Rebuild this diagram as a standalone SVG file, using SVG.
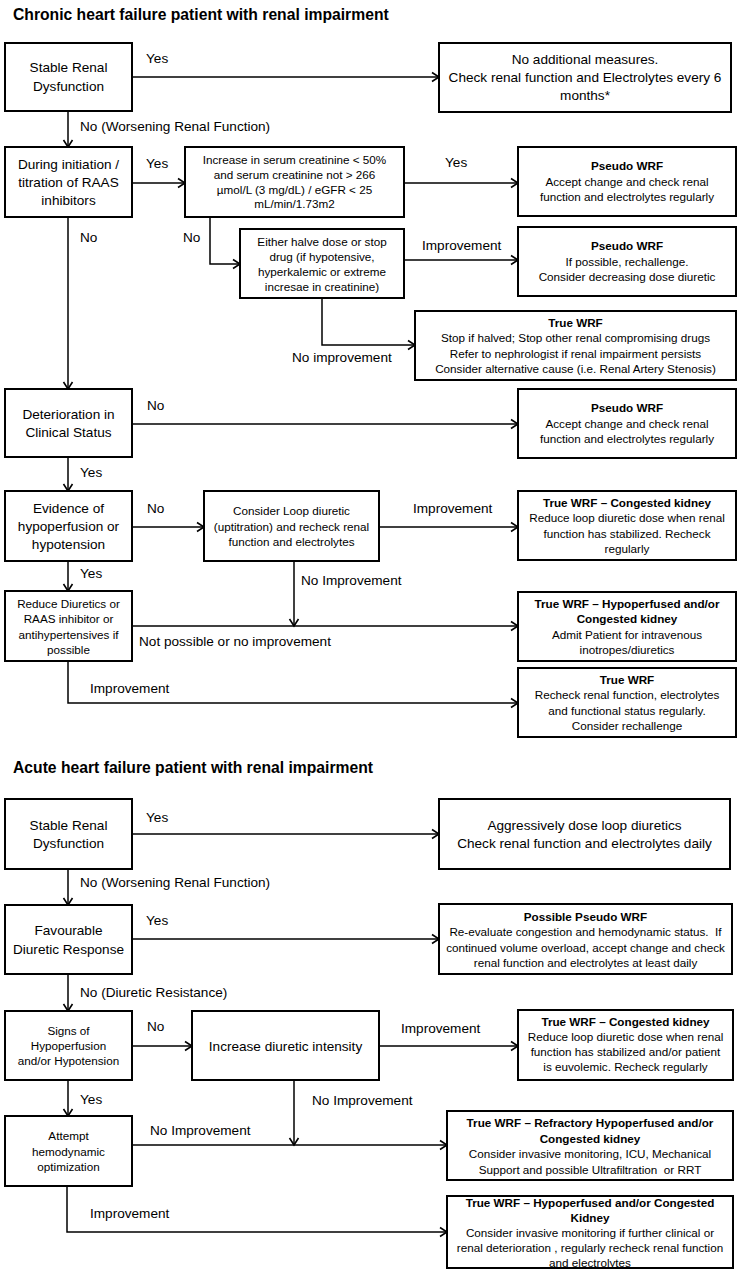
<svg xmlns="http://www.w3.org/2000/svg" width="740" height="1274" viewBox="0 0 740 1274">
<style>
.bg{fill:#fff}
.box{fill:#fff;stroke:#000;stroke-width:2}
.conn{fill:none;stroke:#000;stroke-width:1.5}
text{font-family:"Liberation Sans",Arial,sans-serif;fill:#000}
.big{font-size:13.6px;text-anchor:middle}
.sm{font-size:11.7px;text-anchor:middle}
.b{font-weight:bold}
.lbl{font-size:13.6px}
.title{font-size:15.7px;font-weight:bold}
</style>
<defs>
<marker id="arr" markerUnits="userSpaceOnUse" markerWidth="12" markerHeight="12" refX="9" refY="6" orient="auto">
<path d="M2,1.5 L9,6 L2,10.5" fill="none" stroke="#000" stroke-width="1.6"/>
</marker>
</defs>
<rect class="bg" x="0" y="0" width="740" height="1274"/>

<text class="title" x="13" y="20">Chronic heart failure patient with renal impairment</text>
<text class="title" x="13" y="773">Acute heart failure patient with renal impairment</text>

<g id="connectors">
<path class="conn" d="M132,77 H439" marker-end="url(#arr)"/>
<path class="conn" d="M68,111 V147" marker-end="url(#arr)"/>
<path class="conn" d="M132,183 H185" marker-end="url(#arr)"/>
<path class="conn" d="M404,183 H518" marker-end="url(#arr)"/>
<path class="conn" d="M210,217 V264 H240" marker-end="url(#arr)"/>
<path class="conn" d="M404,260 H518" marker-end="url(#arr)"/>
<path class="conn" d="M322,298 V345 H415" marker-end="url(#arr)"/>
<path class="conn" d="M68,217 V389" marker-end="url(#arr)"/>
<path class="conn" d="M132,424 H518" marker-end="url(#arr)"/>
<path class="conn" d="M68,457 V491" marker-end="url(#arr)"/>
<path class="conn" d="M132,527 H204" marker-end="url(#arr)"/>
<path class="conn" d="M379,527 H518" marker-end="url(#arr)"/>
<path class="conn" d="M68,561 V591" marker-end="url(#arr)"/>
<path class="conn" d="M294,561 V626" marker-end="url(#arr)"/>
<path class="conn" d="M132,626 H518" marker-end="url(#arr)"/>
<path class="conn" d="M68,661 V703 H518" marker-end="url(#arr)"/>

<path class="conn" d="M132,834 H439" marker-end="url(#arr)"/>
<path class="conn" d="M68,869 V905" marker-end="url(#arr)"/>
<path class="conn" d="M132,939 H439" marker-end="url(#arr)"/>
<path class="conn" d="M68,974 V1011" marker-end="url(#arr)"/>
<path class="conn" d="M132,1046 H192" marker-end="url(#arr)"/>
<path class="conn" d="M379,1046 H518" marker-end="url(#arr)"/>
<path class="conn" d="M68,1080 V1116" marker-end="url(#arr)"/>
<path class="conn" d="M294,1080 V1145" marker-end="url(#arr)"/>
<path class="conn" d="M132,1145 H447" marker-end="url(#arr)"/>
<path class="conn" d="M67,1186 V1232 H447" marker-end="url(#arr)"/>

<text class="lbl" x="146" y="63">Yes</text>
<text class="lbl" x="80" y="131">No (Worsening Renal Function)</text>
<text class="lbl" x="146" y="168">Yes</text>
<text class="lbl" x="445" y="167">Yes</text>
<text class="lbl" x="80" y="242">No</text>
<text class="lbl" x="183" y="242">No</text>
<text class="lbl" x="422" y="250">Improvement</text>
<text class="lbl" x="292" y="362">No improvement</text>
<text class="lbl" x="147" y="410">No</text>
<text class="lbl" x="80" y="477">Yes</text>
<text class="lbl" x="147" y="513">No</text>
<text class="lbl" x="413" y="513">Improvement</text>
<text class="lbl" x="80" y="578">Yes</text>
<text class="lbl" x="301" y="585">No Improvement</text>
<text class="lbl" x="139" y="646">Not possible or no improvement</text>
<text class="lbl" x="90" y="693">Improvement</text>

<text class="lbl" x="146" y="822">Yes</text>
<text class="lbl" x="80" y="887">No (Worsening Renal Function)</text>
<text class="lbl" x="146" y="925">Yes</text>
<text class="lbl" x="80" y="997">No (Diuretic Resistance)</text>
<text class="lbl" x="147" y="1031">No</text>
<text class="lbl" x="401" y="1033">Improvement</text>
<text class="lbl" x="80" y="1104">Yes</text>
<text class="lbl" x="312" y="1105">No Improvement</text>
<text class="lbl" x="150" y="1135">No Improvement</text>
<text class="lbl" x="90" y="1218">Improvement</text>
</g>

<g id="c-stable">
<rect class="box" x="5" y="43" width="127" height="68"/>
<text class="big" x="68.5" y="72">Stable Renal</text>
<text class="big" x="68.5" y="91">Dysfunction</text>
</g>
<g id="c-nomeasures">
<rect class="box" x="439" y="43" width="292" height="69"/>
<text class="big" x="585" y="63.5">No additional measures.</text>
<text class="big" x="585" y="81.5">Check renal function and Electrolytes every 6</text>
<text class="big" x="585" y="99.5">months*</text>
</g>
<g id="c-raas">
<rect class="box" x="5" y="147" width="127" height="70"/>
<text class="big" x="68.5" y="168.5">During initiation /</text>
<text class="big" x="68.5" y="186.5">titration of RAAS</text>
<text class="big" x="68.5" y="204.5">inhibitors</text>
</g>
<g id="c-creatinine">
<rect class="box" x="185" y="147" width="219" height="70"/>
<text class="sm" x="294.5" y="164">Increase in serum creatinine &lt; 50%</text>
<text class="sm" x="294.5" y="179">and  serum creatinine not &gt; 266</text>
<text class="sm" x="294.5" y="193.5">µmol/L (3 mg/dL) / eGFR &lt; 25</text>
<text class="sm" x="294.5" y="208">mL/min/1.73m2</text>
</g>
<g id="c-pseudo1">
<rect class="box" x="518" y="147" width="218" height="69"/>
<text class="sm b" x="627" y="170">Pseudo WRF</text>
<text class="sm" x="627" y="185.5">Accept change and check renal</text>
<text class="sm" x="627" y="201">function and electrolytes regularly</text>
</g>
<g id="c-halve">
<rect class="box" x="240" y="229" width="164" height="69"/>
<text class="sm" x="322" y="246">Either halve dose or stop</text>
<text class="sm" x="322" y="261">drug (if hypotensive,</text>
<text class="sm" x="322" y="276">hyperkalemic or extreme</text>
<text class="sm" x="322" y="291">incresae in creatinine)</text>
</g>
<g id="c-pseudo2">
<rect class="box" x="518" y="227" width="218" height="69"/>
<text class="sm b" x="627" y="250">Pseudo WRF</text>
<text class="sm" x="627" y="265.5">If possible, rechallenge.</text>
<text class="sm" x="627" y="281">Consider decreasing dose diuretic</text>
</g>
<g id="c-true1">
<rect class="box" x="415" y="311" width="321" height="69"/>
<text class="sm b" x="575.5" y="327">True WRF</text>
<text class="sm" x="575.5" y="342">Stop if halved; Stop other renal compromising drugs</text>
<text class="sm" x="575.5" y="357.5">Refer to nephrologist if renal impairment persists</text>
<text class="sm" x="575.5" y="373">Consider alternative cause (i.e. Renal Artery Stenosis)</text>
</g>
<g id="c-deterioration">
<rect class="box" x="5" y="389" width="127" height="68"/>
<text class="big" x="68.5" y="419">Deterioration in</text>
<text class="big" x="68.5" y="437">Clinical Status</text>
</g>
<g id="c-pseudo3">
<rect class="box" x="518" y="389" width="218" height="69"/>
<text class="sm b" x="627" y="412">Pseudo WRF</text>
<text class="sm" x="627" y="427.5">Accept change and check renal</text>
<text class="sm" x="627" y="443">function and electrolytes regularly</text>
</g>
<g id="c-hypoperfusion">
<rect class="box" x="5" y="491" width="127" height="70"/>
<text class="big" x="68.5" y="512.5">Evidence of</text>
<text class="big" x="68.5" y="530.5">hypoperfusion or</text>
<text class="big" x="68.5" y="548.5">hypotension</text>
</g>
<g id="c-loop">
<rect class="box" x="204" y="491" width="175" height="70"/>
<text class="sm" x="291.5" y="515">Consider Loop diuretic</text>
<text class="sm" x="291.5" y="530.5">(uptitration) and recheck renal</text>
<text class="sm" x="291.5" y="546">function and electrolytes</text>
</g>
<g id="c-congested">
<rect class="box" x="518" y="491" width="218" height="69"/>
<text class="sm b" x="627" y="507">True WRF – Congested kidney</text>
<text class="sm" x="627" y="522.3">Reduce loop diuretic dose when renal</text>
<text class="sm" x="627" y="537.6">function has stabilized. Recheck</text>
<text class="sm" x="627" y="553">regularly</text>
</g>
<g id="c-reduce">
<rect class="box" x="5" y="591" width="127" height="70"/>
<text class="sm" x="68.5" y="607.5">Reduce Diuretics or</text>
<text class="sm" x="68.5" y="623">RAAS inhibitor or</text>
<text class="sm" x="68.5" y="638.5">antihypertensives if</text>
<text class="sm" x="68.5" y="654">possible</text>
</g>
<g id="c-hypo-congested">
<rect class="box" x="518" y="592" width="218" height="69"/>
<text class="sm b" x="627" y="608">True WRF – Hypoperfused and/or</text>
<text class="sm b" x="627" y="623.3">Congested kidney</text>
<text class="sm" x="627" y="638.6">Admit Patient for intravenous</text>
<text class="sm" x="627" y="654">inotropes/diuretics</text>
</g>
<g id="c-true2">
<rect class="box" x="518" y="668" width="218" height="69"/>
<text class="sm b" x="627" y="684">True WRF</text>
<text class="sm" x="627" y="699.3">Recheck renal function, electrolytes</text>
<text class="sm" x="627" y="714.6">and functional status regularly.</text>
<text class="sm" x="627" y="730">Consider rechallenge</text>
</g>

<g id="a-stable">
<rect class="box" x="5" y="799" width="127" height="70"/>
<text class="big" x="68.5" y="829.5">Stable Renal</text>
<text class="big" x="68.5" y="848">Dysfunction</text>
</g>
<g id="a-aggressive">
<rect class="box" x="439" y="799" width="291" height="70"/>
<text class="big" x="584.5" y="829.5">Aggressively dose loop diuretics</text>
<text class="big" x="584.5" y="847.5">Check renal function and electrolytes daily</text>
</g>
<g id="a-favourable">
<rect class="box" x="5" y="905" width="127" height="69"/>
<text class="big" x="68.5" y="935">Favourable</text>
<text class="big" x="68.5" y="953.5">Diuretic Response</text>
</g>
<g id="a-possible">
<rect class="box" x="439" y="904" width="293" height="70"/>
<text class="sm b" x="585.5" y="921">Possible Pseudo WRF</text>
<text class="sm" x="585.5" y="936.3" xml:space="preserve">Re-evaluate congestion and hemodynamic status.  If</text>
<text class="sm" x="585.5" y="951.6">continued volume overload, accept change and check</text>
<text class="sm" x="585.5" y="967">renal function and electrolytes at least daily</text>
</g>
<g id="a-signs">
<rect class="box" x="5" y="1011" width="127" height="69"/>
<text class="sm" x="68.5" y="1035">Signs of</text>
<text class="sm" x="68.5" y="1050">Hypoperfusion</text>
<text class="sm" x="68.5" y="1065">and/or Hypotension</text>
</g>
<g id="a-increase">
<rect class="box" x="192" y="1011" width="187" height="69"/>
<text class="big" x="285.5" y="1050.5">Increase diuretic intensity</text>
</g>
<g id="a-congested">
<rect class="box" x="518" y="1010" width="215" height="70"/>
<text class="sm b" x="625.5" y="1026">True WRF – Congested kidney</text>
<text class="sm" x="625.5" y="1041">Reduce loop diuretic dose when renal</text>
<text class="sm" x="625.5" y="1056">function has stabilized and/or patient</text>
<text class="sm" x="625.5" y="1071">is euvolemic. Recheck regularly</text>
</g>
<g id="a-attempt">
<rect class="box" x="5" y="1116" width="127" height="70"/>
<text class="sm" x="68.5" y="1140">Attempt</text>
<text class="sm" x="68.5" y="1155.5">hemodynamic</text>
<text class="sm" x="68.5" y="1171">optimization</text>
</g>
<g id="a-refractory">
<rect class="box" x="447" y="1111" width="286" height="69"/>
<text class="sm b" x="590" y="1127">True WRF – Refractory Hypoperfused and/or</text>
<text class="sm b" x="590" y="1142.5">Congested kidney</text>
<text class="sm" x="590" y="1158">Consider invasive monitoring, ICU, Mechanical</text>
<text class="sm" x="590" y="1173.5" xml:space="preserve">Support and possible Ultrafiltration  or RRT</text>
</g>
<g id="a-hypo-congested">
<rect class="box" x="447" y="1196" width="286" height="72"/>
<text class="sm b" x="590" y="1207">True WRF – Hypoperfused and/or Congested</text>
<text class="sm b" x="590" y="1222">Kidney</text>
<text class="sm" x="590" y="1237">Consider invasive monitoring if further clinical or</text>
<text class="sm" x="590" y="1252">renal deterioration , regularly recheck renal function</text>
<text class="sm" x="590" y="1267">and electrolytes</text>
</g>
</svg>
